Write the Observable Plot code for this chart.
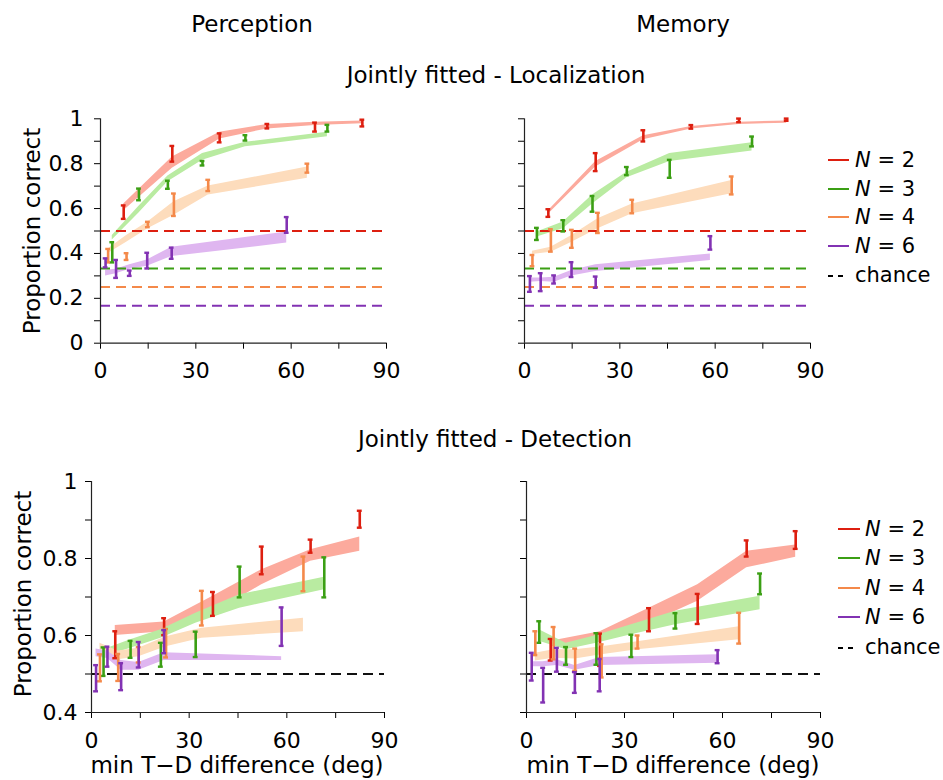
<!DOCTYPE html>
<html>
<head>
<meta charset="utf-8">
<script src="https://cdn.jsdelivr.net/npm/d3@7"></script>
<script src="https://cdn.jsdelivr.net/npm/@observablehq/plot@0.6"></script>
<style>
  body { margin: 0; background: #fff; }
  #wrap { position: relative; width: 943px; height: 780px; font-family: "DejaVu Sans", sans-serif; }
  #wrap > svg { position: absolute; }
</style>
</head>
<body>
<div id="wrap"></div>
<script>
// ---------------- data ----------------
const seriesN = [2, 3, 4, 6];
const pointColors = ["#dd1f10", "#3b9f14", "#f4894a", "#8232b3"];
const bandColors = ["#fcaa9d", "#b9eba1", "#fddcbc", "#dfb6f0"];
const legendLabels = ["2", "3", "4", "6"];
const chanceTop = [0.5, 0.333, 0.25, 0.167];
const chanceBottom = [0.5];
const xTicks = [0, 15, 30, 45, 60, 75, 90];
const xTickLabels = ["0", "30", "60", "90"];
const yTicksTop = [0, 0.1, 0.2, 0.3, 0.4, 0.5, 0.6, 0.7, 0.8, 0.9, 1];
const yTickLabelsTop = ["0", "0.2", "0.4", "0.6", "0.8", "1"];
const yTicksBottom = [0.4, 0.5, 0.6, 0.7, 0.8, 0.9, 1];
const yTickLabelsBottom = ["0.4", "0.6", "0.8", "1"];

// points: [N, x, mean, error]; bands: [N, x, low, high]
const percLocPts = [
  [2, 7.3, 0.584, 0.03], [2, 22.6, 0.844, 0.035], [2, 37.5, 0.915, 0.02], [2, 52.5, 0.967, 0.01], [2, 67.5, 0.963, 0.02], [2, 82.4, 0.981, 0.015],
  [3, 3.7, 0.405, 0.045], [3, 12.1, 0.663, 0.026], [3, 21.2, 0.706, 0.018], [3, 32.1, 0.802, 0.01], [3, 45.6, 0.915, 0.012], [3, 71.4, 0.958, 0.015],
  [4, 2.4, 0.39, 0.03], [4, 8.2, 0.386, 0.015], [4, 14.9, 0.529, 0.012], [4, 23.1, 0.617, 0.05], [4, 33.9, 0.703, 0.025], [4, 65.1, 0.78, 0.02],
  [6, 1.6, 0.358, 0.02], [6, 4.9, 0.331, 0.04], [6, 9.2, 0.312, 0.012], [6, 14.7, 0.368, 0.035], [6, 22.4, 0.401, 0.025], [6, 58.6, 0.527, 0.035]
];
const percLocBand = [
  [2, 7.3, 0.59, 0.62], [2, 22.6, 0.78, 0.83], [2, 37.5, 0.91, 0.94], [2, 52.5, 0.955, 0.975], [2, 67.5, 0.97, 0.985], [2, 82.4, 0.978, 0.99],
  [3, 3.7, 0.46, 0.48], [3, 12.1, 0.58, 0.61], [3, 21.2, 0.72, 0.745], [3, 32.1, 0.815, 0.845], [3, 45.6, 0.875, 0.895], [3, 71.4, 0.92, 0.94],
  [4, 2.4, 0.40, 0.42], [4, 8.2, 0.45, 0.48], [4, 14.9, 0.51, 0.54], [4, 23.1, 0.57, 0.63], [4, 33.9, 0.66, 0.70], [4, 65.1, 0.735, 0.785],
  [6, 1.6, 0.30, 0.325], [6, 4.9, 0.31, 0.33], [6, 9.2, 0.33, 0.35], [6, 14.7, 0.343, 0.371], [6, 22.4, 0.386, 0.428], [6, 58.6, 0.446, 0.495]
];
const memLocPts = [
  [2, 7.5, 0.58, 0.017], [2, 22.4, 0.807, 0.04], [2, 37.4, 0.924, 0.025], [2, 52.5, 0.964, 0.008], [2, 67.5, 0.993, 0.008], [2, 82.5, 0.996, 0.005],
  [3, 3.9, 0.487, 0.027], [3, 12.2, 0.523, 0.025], [3, 21.4, 0.621, 0.035], [3, 32.2, 0.767, 0.018], [3, 45.7, 0.777, 0.04], [3, 71.6, 0.899, 0.022],
  [4, 2.5, 0.368, 0.025], [4, 8.3, 0.458, 0.05], [4, 14.9, 0.465, 0.04], [4, 23.1, 0.536, 0.045], [4, 33.9, 0.609, 0.03], [4, 65.2, 0.703, 0.04],
  [6, 1.7, 0.264, 0.035], [6, 5.1, 0.272, 0.04], [6, 9.3, 0.284, 0.018], [6, 14.8, 0.328, 0.033], [6, 22.4, 0.272, 0.025], [6, 58.5, 0.447, 0.03]
];
const memLocBand = [
  [2, 7.5, 0.575, 0.59], [2, 22.4, 0.785, 0.81], [2, 37.4, 0.907, 0.925], [2, 52.5, 0.954, 0.966], [2, 67.5, 0.975, 0.985], [2, 82.5, 0.98, 0.99],
  [3, 3.9, 0.473, 0.495], [3, 12.2, 0.51, 0.54], [3, 21.4, 0.62, 0.66], [3, 32.2, 0.737, 0.762], [3, 45.7, 0.81, 0.845], [3, 71.6, 0.856, 0.893],
  [4, 2.5, 0.395, 0.41], [4, 8.3, 0.405, 0.428], [4, 14.9, 0.45, 0.48], [4, 23.1, 0.51, 0.555], [4, 33.9, 0.577, 0.62], [4, 65.2, 0.666, 0.725],
  [6, 1.7, 0.272, 0.29], [6, 5.1, 0.275, 0.29], [6, 9.3, 0.272, 0.294], [6, 14.8, 0.30, 0.324], [6, 22.4, 0.32, 0.35], [6, 58.5, 0.368, 0.398]
];
const percDetPts = [
  [2, 7.3, 0.576, 0.035], [2, 22.3, 0.623, 0.022], [2, 37.3, 0.682, 0.031], [2, 52.3, 0.795, 0.036], [2, 67.3, 0.832, 0.017], [2, 82.4, 0.902, 0.022],
  [3, 3.7, 0.532, 0.037], [3, 12.0, 0.564, 0.022], [3, 21.3, 0.55, 0.031], [3, 32.0, 0.577, 0.033], [3, 45.5, 0.739, 0.04], [3, 71.5, 0.751, 0.052],
  [4, 2.6, 0.516, 0.035], [4, 8.2, 0.517, 0.035], [4, 14.5, 0.55, 0.02], [4, 22.9, 0.58, 0.037], [4, 33.9, 0.671, 0.045], [4, 65.1, 0.76, 0.045],
  [6, 1.4, 0.489, 0.034], [6, 4.9, 0.545, 0.026], [6, 9.1, 0.493, 0.035], [6, 14.5, 0.55, 0.033], [6, 22.3, 0.584, 0.03], [6, 58.4, 0.623, 0.05]
];
const percDetBand = [
  [2, 7.3, 0.60, 0.626], [2, 22.3, 0.61, 0.635], [2, 37.3, 0.658, 0.702], [2, 52.3, 0.732, 0.771], [2, 67.3, 0.793, 0.823], [2, 82.4, 0.819, 0.856],
  [3, 3.7, 0.545, 0.563], [3, 12.0, 0.567, 0.589], [3, 21.3, 0.593, 0.615], [3, 32.0, 0.632, 0.658], [3, 45.5, 0.671, 0.706], [3, 71.5, 0.719, 0.751],
  [4, 2.6, 0.558, 0.58], [4, 8.2, 0.537, 0.56], [4, 14.5, 0.545, 0.567], [4, 22.9, 0.571, 0.597], [4, 33.9, 0.593, 0.619], [4, 65.1, 0.61, 0.645],
  [6, 1.4, 0.545, 0.565], [6, 4.9, 0.54, 0.56], [6, 9.1, 0.51, 0.535], [6, 14.5, 0.51, 0.53], [6, 22.3, 0.535, 0.555], [6, 58.4, 0.535, 0.545]
];
const memDetPts = [
  [2, 7.4, 0.563, 0.028], [2, 22.5, 0.563, 0.042], [2, 37.5, 0.641, 0.03], [2, 52.4, 0.669, 0.039], [2, 67.4, 0.826, 0.021], [2, 82.4, 0.848, 0.023],
  [3, 3.9, 0.609, 0.028], [3, 12.1, 0.547, 0.023], [3, 21.4, 0.565, 0.041], [3, 32.1, 0.573, 0.029], [3, 45.6, 0.638, 0.02], [3, 71.5, 0.734, 0.027],
  [4, 2.7, 0.58, 0.031], [4, 8.3, 0.58, 0.042], [4, 14.9, 0.537, 0.029], [4, 23.0, 0.534, 0.043], [4, 34.0, 0.583, 0.017], [4, 65.1, 0.619, 0.04],
  [6, 1.6, 0.519, 0.036], [6, 5.1, 0.471, 0.045], [6, 9.3, 0.537, 0.031], [6, 14.8, 0.478, 0.027], [6, 22.4, 0.497, 0.042], [6, 58.5, 0.545, 0.017]
];
const memDetBand = [
  [2, 7.4, 0.57, 0.585], [2, 22.5, 0.593, 0.61], [2, 37.5, 0.632, 0.671], [2, 52.4, 0.689, 0.732], [2, 67.4, 0.776, 0.819], [2, 82.4, 0.803, 0.835],
  [3, 3.9, 0.585, 0.615], [3, 12.1, 0.563, 0.58], [3, 21.4, 0.58, 0.6], [3, 32.1, 0.602, 0.628], [3, 45.6, 0.628, 0.663], [3, 71.5, 0.667, 0.702],
  [4, 2.7, 0.534, 0.554], [4, 8.3, 0.541, 0.563], [4, 14.9, 0.539, 0.563], [4, 23.0, 0.55, 0.571], [4, 34.0, 0.563, 0.584], [4, 65.1, 0.589, 0.623],
  [6, 1.6, 0.519, 0.532], [6, 5.1, 0.519, 0.532], [6, 9.3, 0.522, 0.537], [6, 14.8, 0.51, 0.522], [6, 22.4, 0.522, 0.543], [6, 58.5, 0.528, 0.55]
];

// ---------------- drawing ----------------
const wrap = document.getElementById("wrap");
const fmt = labels => d => { const s = String(+d.toFixed(2)); return labels.includes(s) ? s : ""; };

function panel(cfg) {
  const pts = cfg.pts.map(([n, x, m, e]) => ({n, x, m, lo: m - e, hi: m + e}));
  const bands = cfg.bands.map(([n, x, lo, hi]) => ({n, x, lo, hi}));
  const marks = [];
  seriesN.forEach((n, i) => {
    marks.push(Plot.areaY(bands.filter(d => d.n === n), {x: "x", y1: "lo", y2: "hi", fill: bandColors[i]}));
  });
  cfg.chance.forEach((v, i) => {
    marks.push(Plot.ruleY([v], {stroke: cfg.chanceColors[i], strokeWidth: 2, strokeDasharray: "10,6"}));
  });
  marks.push(Plot.ruleX([0], {stroke: "#222", strokeWidth: 1.2}));
  marks.push(Plot.ruleY([cfg.yDomain[0]], {stroke: "#222", strokeWidth: 1.2}));
  seriesN.forEach((n, i) => {
    const sub = pts.filter(d => d.n === n);
    const c = pointColors[i];
    marks.push(Plot.ruleX(sub, {x: "x", y1: "lo", y2: "hi", stroke: c, strokeWidth: 2.6}));
    marks.push(Plot.ruleY(sub, {y: "hi", x1: d => d.x - 0.75, x2: d => d.x + 0.75, stroke: c, strokeWidth: 2.4}));
    marks.push(Plot.ruleY(sub, {y: "lo", x1: d => d.x - 0.75, x2: d => d.x + 0.75, stroke: c, strokeWidth: 2.4}));
  });
  const svg = Plot.plot({
    width: cfg.W, height: cfg.H,
    marginLeft: cfg.mL, marginRight: cfg.mR, marginTop: cfg.mT, marginBottom: cfg.mB,
    style: {background: "transparent", fontFamily: "DejaVu Sans", fontSize: "22px", color: "#000", overflow: "visible"},
    x: {domain: [0, 90], ticks: xTicks, tickFormat: cfg.showX ? fmt(xTickLabels) : () => "", tickSize: 6, tickPadding: cfg.xPad, label: null},
    y: {domain: cfg.yDomain, ticks: cfg.yTicks, tickFormat: cfg.showY ? fmt(cfg.yLabels) : () => "", tickSize: 6, tickPadding: cfg.yPad, label: null},
    marks
  });
  svg.style.left = cfg.L + "px";
  svg.style.top = cfg.T + "px";
  wrap.appendChild(svg);
}

const darkChance = ["#111"];
panel({pts: percLocPts, bands: percLocBand, chance: chanceTop, chanceColors: pointColors, yDomain: [0, 1], yTicks: yTicksTop, yLabels: yTickLabelsTop,
  showX: true, showY: true, L: 0, T: 95, W: 430, H: 300, mL: 100, mR: 44, mT: 23.3, mB: 52.3, xPad: 13, yPad: 11});
panel({pts: memLocPts, bands: memLocBand, chance: chanceTop, chanceColors: pointColors, yDomain: [0, 1], yTicks: yTicksTop, yLabels: yTickLabelsTop,
  showX: true, showY: false, L: 440, T: 95, W: 400, H: 300, mL: 84, mR: 30, mT: 23.3, mB: 52.3, xPad: 13, yPad: 11});
panel({pts: percDetPts, bands: percDetBand, chance: chanceBottom, chanceColors: darkChance, yDomain: [0.4, 1], yTicks: yTicksBottom, yLabels: yTickLabelsBottom,
  showX: true, showY: true, L: 0, T: 460, W: 430, H: 320, mL: 91, mR: 46, mT: 21, mB: 68, xPad: 14, yPad: 8});
panel({pts: memDetPts, bands: memDetBand, chance: chanceBottom, chanceColors: darkChance, yDomain: [0.4, 1], yTicks: yTicksBottom, yLabels: yTickLabelsBottom,
  showX: true, showY: false, L: 440, T: 460, W: 400, H: 320, mL: 86, mR: 20, mT: 21, mB: 68, xPad: 14, yPad: 8});

// ---------------- titles, labels, legends ----------------
const ov = d3.create("svg").attr("width", 943).attr("height", 780)
  .style("left", "0px").style("top", "0px").style("pointer-events", "none")
  .attr("font-family", "DejaVu Sans").attr("fill", "#000");
const txt = (x, y, s, size) => ov.append("text").attr("x", x).attr("y", y).attr("text-anchor", "middle").attr("font-size", size).text(s);
txt(252, 32, "Perception", 23);
txt(683, 32, "Memory", 23);
txt(496, 83, "Jointly fitted - Localization", 23);
txt(495, 447, "Jointly fitted - Detection", 23);
txt(237, 773, "min T\u2212D difference (deg)", 23);
txt(673, 773, "min T\u2212D difference (deg)", 23);
ov.append("text").attr("transform", "translate(40,231) rotate(-90)").attr("text-anchor", "middle").attr("font-size", 23).text("Proportion correct");
ov.append("text").attr("transform", "translate(31,594) rotate(-90)").attr("text-anchor", "middle").attr("font-size", 23).text("Proportion correct");

function legend(x0, x1, tx, baselines) {
  seriesN.forEach((n, i) => {
    const yb = baselines[i];
    ov.append("line").attr("x1", x0).attr("x2", x1).attr("y1", yb - 7).attr("y2", yb - 7).attr("stroke", pointColors[i]).attr("stroke-width", 2);
    const t = ov.append("text").attr("x", tx).attr("y", yb).attr("font-size", 21);
    t.append("tspan").attr("font-style", "italic").text("N");
    t.append("tspan").text(" = " + legendLabels[i]);
  });
  const yb = baselines[4];
  ov.append("line").attr("x1", x0).attr("x2", x0 + 15).attr("y1", yb - 6).attr("y2", yb - 6).attr("stroke", "#000").attr("stroke-width", 2).attr("stroke-dasharray", "5,5");
  ov.append("text").attr("x", tx).attr("y", yb).attr("font-size", 21).text("chance");
}
legend(828, 849, 855, [167, 196, 224, 253, 282]);
legend(838, 860, 865, [536, 565, 595, 624, 654]);
wrap.appendChild(ov.node());
</script>
</body>
</html>
